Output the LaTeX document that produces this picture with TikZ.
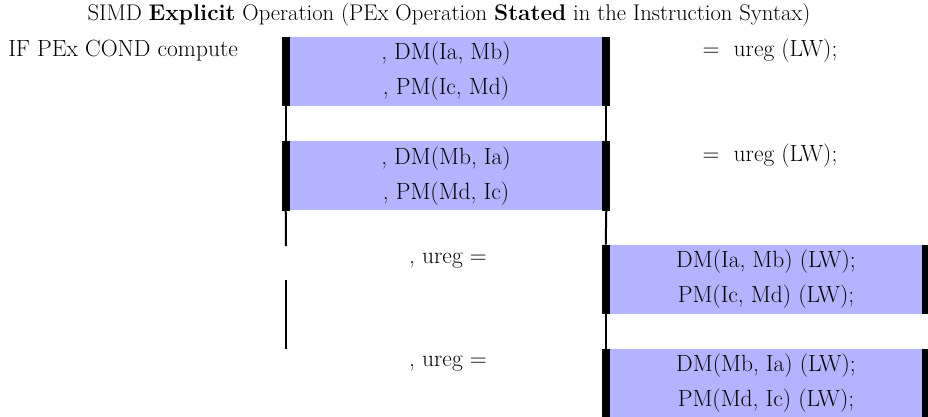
\documentclass[tikz,border=0pt]{standalone}
\usepackage{fontspec}
\definecolor{lav}{HTML}{B3B3FF}
\begin{document}
\begin{tikzpicture}[x=0.75pt,y=-0.75pt,
  txt/.style={inner sep=0pt,font=\fontsize{17.6}{26.25}\selectfont,align=center},
  box/.style={txt,fill=lav,minimum width=246pt,minimum height=51.75pt},
  bar/.style={fill=black},
  conn/.style={draw=black,line width=1.5pt}]
\useasboundingbox (0,0) rectangle (928,417);
\node[txt,font=\fontsize{17}{20}\selectfont] (title) at (449,15) {SIMD \textbf{Explicit} Operation (PEx Operation \textbf{Stated} in the Instruction Syntax)};
\node[txt,anchor=west] (if) at (8,51) {IF PEx COND compute};
% boxes
\node[box] (b1) at (446,71.5) {, DM(Ia, Mb)\\, PM(Ic, Md)};
\node[box] (b2) at (446,176) {, DM(Mb, Ia)\\, PM(Md, Ic)};
\node[box] (b3) at (766,279.5) {DM(Ia, Mb) (LW);\\PM(Ic, Md) (LW);};
\node[box,minimum height=51pt] (b4) at (766,383) {DM(Mb, Ia) (LW);\\PM(Md, Ic) (LW);};
% bars
\foreach \b in {b1,b2,b3,b4}{
  \fill[bar] (\b.north west) rectangle ([xshift=6pt]\b.south west);
  \fill[bar] (\b.north east) rectangle ([xshift=-6pt]\b.south east);
}
% right texts
\node[txt] (r1) at (770,51) {=\ \ ureg (LW);};
\node[txt] (r2) at (770,156) {=\ \ ureg (LW);};
\node[txt] (u1) at (448,261) {, ureg =};
\node[txt] (u2) at (448,364) {, ureg =};
% connectors
\coordinate (l1end) at (286,246);
\coordinate (l2start) at (286,280);
\coordinate (l2end) at (286,349);
\draw[conn] ([xshift=3pt]b1.south west) -- ([xshift=3pt]b2.north west);
\draw[conn] ([xshift=-3pt]b1.south east) -- ([xshift=-3pt]b2.north east);
\draw[conn] ([xshift=3pt]b2.south west) -- (l1end);
\draw[conn] ([xshift=-3pt]b2.south east) -- ([xshift=3pt]b3.north west);
\draw[conn] (l2start) -- (l2end);
\draw[conn] ([xshift=3pt]b3.south west) -- ([xshift=3pt]b4.north west);
\end{tikzpicture}
\end{document}
